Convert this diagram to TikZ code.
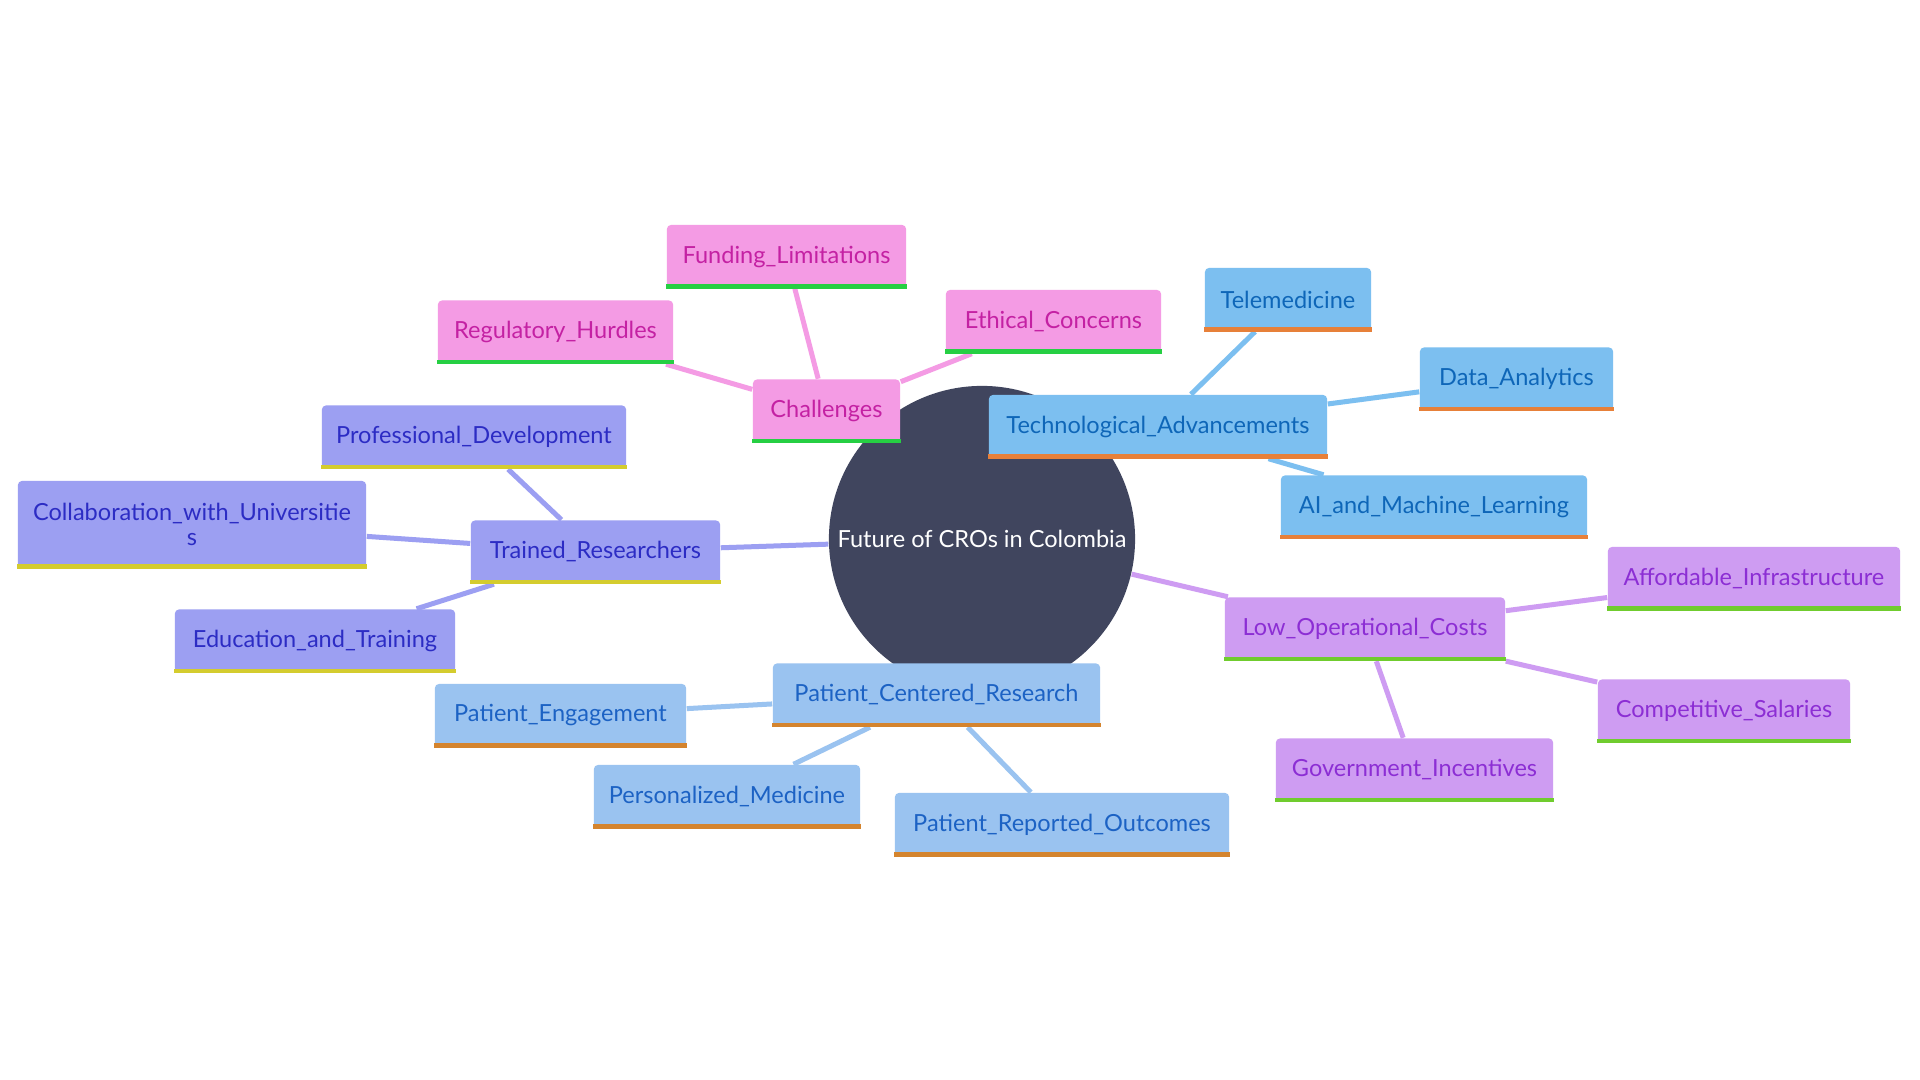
\documentclass[tikz,border=0pt]{standalone}
\usepackage{fontspec}
\setmainfont{Lato}
\usetikzlibrary{backgrounds}

\definecolor{rootfill}{RGB}{64,69,94}
\definecolor{chalfill}{RGB}{244,155,228}
\definecolor{chaltext}{RGB}{196,33,163}
\definecolor{challine}{RGB}{38,207,67}
\definecolor{techfill}{RGB}{124,191,240}
\definecolor{techtext}{RGB}{14,102,184}
\definecolor{techline}{RGB}{231,128,57}
\definecolor{trainfill}{RGB}{156,159,242}
\definecolor{traintext}{RGB}{44,44,196}
\definecolor{trainline}{RGB}{212,204,46}
\definecolor{patfill}{RGB}{154,195,240}
\definecolor{pattext}{RGB}{28,98,196}
\definecolor{patline}{RGB}{212,132,46}
\definecolor{lowfill}{RGB}{206,156,242}
\definecolor{lowtext}{RGB}{140,46,212}
\definecolor{lowline}{RGB}{112,204,46}

\begin{document}
\begin{tikzpicture}[x=0.01cm, y=-0.01cm,
      every node/.style={font=\fontsize{6.7}{8.5}\selectfont},
      box/.style={rectangle, rounded corners=0.04cm, inner sep=0pt, minimum height=0.63cm},
      chal/.style={box, fill=chalfill, text=chaltext},
      tech/.style={box, fill=techfill, text=techtext},
      train/.style={box, fill=trainfill, text=traintext},
      pat/.style={box, fill=patfill, text=pattext},
      low/.style={box, fill=lowfill, text=lowtext},
      link/.style={line width=0.05cm}]

      \useasboundingbox (0,0) rectangle (1920,1080);

      \node[circle, fill=rootfill, text=white, minimum size=3.06cm, inner sep=0pt] (root) at (982, 539) {Future of CROs in Colombia};

      \begin{scope}[name prefix = chal-]
         \node[chal, minimum width=1.47cm] (main) at (826.5, 411) {Challenges};
         \node[chal, minimum width=2.39cm] (funding) at (786.5, 256.5) {Funding\_Limitations};
         \node[chal, minimum width=2.35cm] (regulatory) at (555.5, 332) {Regulatory\_Hurdles};
         \node[chal, minimum width=2.15cm] (ethical) at (1053.5, 321.5) {Ethical\_Concerns};
      \end{scope}

      \begin{scope}[name prefix = tech-]
         \node[tech, minimum width=3.38cm] (main) at (1158, 426.5) {Technological\_Advancements};
         \node[tech, minimum width=1.66cm] (tele) at (1288, 299.5) {Telemedicine};
         \node[tech, minimum width=1.93cm] (data) at (1516.5, 379) {Data\_Analytics};
         \node[tech, minimum width=3.06cm] (ai) at (1434, 507) {AI\_and\_Machine\_Learning};
      \end{scope}

      \begin{scope}[name prefix = train-]
         \node[train, minimum width=2.49cm] (main) at (595.5, 552) {Trained\_Researchers};
         \node[train, minimum width=3.04cm] (prof) at (474, 437) {Professional\_Development};
         \node[train, minimum width=3.48cm, minimum height=0.87cm, align=center, font=\fontsize{6.7}{7}\selectfont] (collab) at (192, 524.5) {Collaboration\_with\_Universitie\\s};
         \node[train, minimum width=2.80cm] (edu) at (315, 641) {Education\_and\_Training};
      \end{scope}

      \begin{scope}[name prefix = pat-]
         \node[pat, minimum width=3.27cm] (main) at (936.5, 695) {Patient\_Centered\_Research};
         \node[pat, minimum width=2.51cm] (engage) at (560.5, 715.5) {Patient\_Engagement};
         \node[pat, minimum width=2.66cm] (personal) at (727, 796.5) {Personalized\_Medicine};
         \node[pat, minimum width=3.34cm] (outcomes) at (1062, 824.5) {Patient\_Reported\_Outcomes};
      \end{scope}

      \begin{scope}[name prefix = low-]
         \node[low, minimum width=2.80cm] (main) at (1365, 629) {Low\_Operational\_Costs};
         \node[low, minimum width=2.92cm] (afford) at (1754, 578.5) {Affordable\_Infrastructure};
         \node[low, minimum width=2.52cm] (salary) at (1724, 711) {Competitive\_Salaries};
         \node[low, minimum width=2.77cm] (gov) at (1414.5, 770) {Government\_Incentives};
      \end{scope}

      % bottom stripes
      \foreach \n/\c in {chal-main/challine, chal-funding/challine, chal-regulatory/challine, chal-ethical/challine,
            tech-main/techline, tech-tele/techline, tech-data/techline, tech-ai/techline,
            train-main/trainline, train-prof/trainline, train-collab/trainline, train-edu/trainline,
            pat-main/patline, pat-engage/patline, pat-personal/patline, pat-outcomes/patline,
            low-main/lowline, low-afford/lowline, low-salary/lowline, low-gov/lowline}
         \fill[\c] (\n.south west) rectangle ([yshift=0.045cm]\n.south east);

      \begin{pgfonlayer}{background}
         \fill[white] (0,0) rectangle (1920,1080);
         \draw[link, chalfill] (root) -- (chal-main);
         \draw[link, chalfill] (chal-main) -- (chal-funding);
         \draw[link, chalfill] (chal-main) -- (chal-regulatory);
         \draw[link, chalfill] (chal-main) -- (chal-ethical);
         \draw[link, techfill] (root) -- (tech-main);
         \draw[link, techfill] (tech-main) -- (tech-tele);
         \draw[link, techfill] (tech-main) -- (tech-data);
         \draw[link, techfill] (tech-main) -- (tech-ai);
         \draw[link, trainfill] (root) -- (train-main);
         \draw[link, trainfill] (train-main) -- (train-prof);
         \draw[link, trainfill] (train-main) -- (train-collab);
         \draw[link, trainfill] (train-main) -- (train-edu);
         \draw[link, patfill] (root) -- (pat-main);
         \draw[link, patfill] (pat-main) -- (pat-engage);
         \draw[link, patfill] (pat-main) -- (pat-personal);
         \draw[link, patfill] (pat-main) -- (pat-outcomes);
         \draw[link, lowfill] (root) -- (low-main);
         \draw[link, lowfill] (low-main) -- (low-afford);
         \draw[link, lowfill] (low-main) -- (low-salary);
         \draw[link, lowfill] (low-main) -- (low-gov);
      \end{pgfonlayer}
\end{tikzpicture}
\end{document}
